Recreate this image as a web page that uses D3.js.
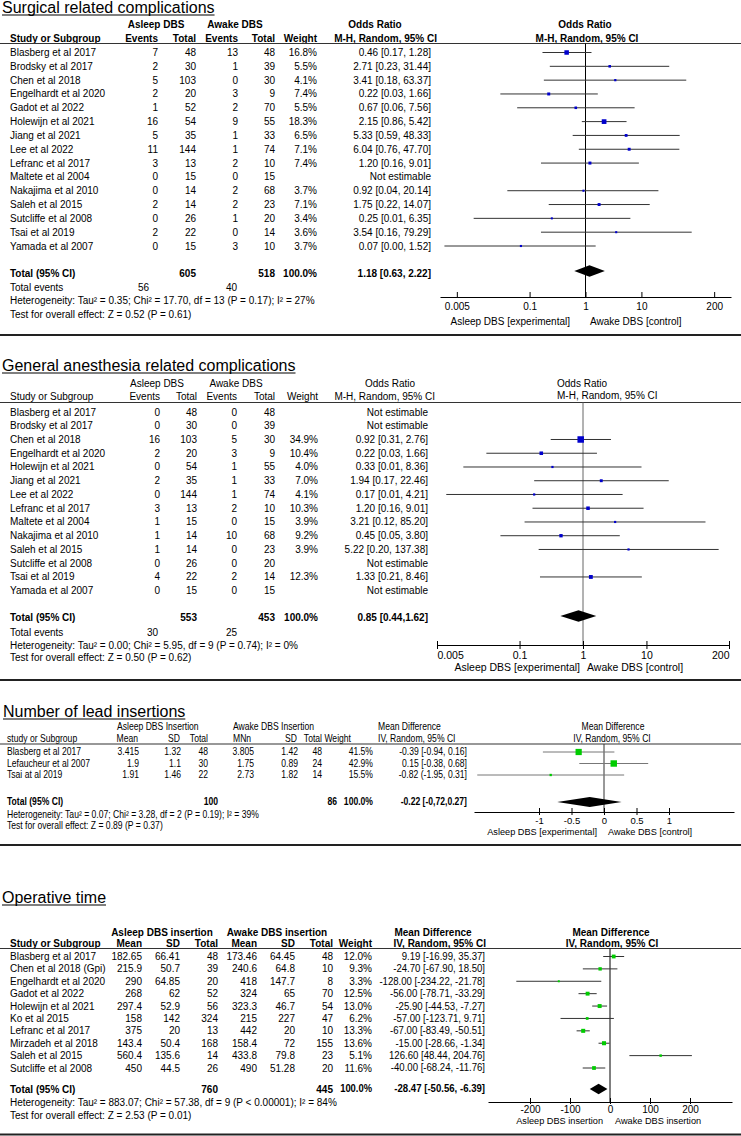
<!DOCTYPE html>
<html>
<head>
<meta charset="utf-8">
<title>Asleep vs awake DBS - forest plots</title>
<script src="https://cdn.jsdelivr.net/npm/d3@7"></script>
<style>
  body { margin: 0; background: #fff; }
  svg { display: block; font-family: "Liberation Sans", Arial, sans-serif; }
</style>
</head>
<body>
<script>
// ---- Surgical related complications (odds ratio) ----
var surgStudies = ['Blasberg et al 2017', 'Brodsky et al 2017', 'Chen et al 2018', 'Engelhardt et al 2020', 'Gadot et al 2022',
    'Holewijn et al 2021', 'Jiang et al 2021', 'Lee et al 2022', 'Lefranc et al 2017', 'Maltete et al 2004',
    'Nakajima et al 2010', 'Saleh et al 2015', 'Sutcliffe et al 2008', 'Tsai et al 2019', 'Yamada et al 2007'];
var surgAsleepEvents = [7, 2, 5, 2, 1, 16, 5, 11, 3, 0, 0, 2, 0, 2, 0];
var surgAsleepTotal = [48, 30, 103, 20, 52, 54, 35, 144, 13, 15, 14, 14, 26, 22, 15];
var surgAwakeEvents = [13, 1, 0, 3, 2, 9, 1, 1, 2, 0, 2, 2, 1, 0, 3];
var surgAwakeTotal = [48, 39, 30, 9, 70, 55, 33, 74, 10, 15, 68, 23, 20, 14, 10];
var surgWeight = [16.8, 5.5, 4.1, 7.4, 5.5, 18.3, 6.5, 7.1, 7.4, null, 3.7, 7.1, 3.4, 3.6, 3.7];
var surgOR = [0.46, 2.71, 3.41, 0.22, 0.67, 2.15, 5.33, 6.04, 1.20, null, 0.92, 1.75, 0.25, 3.54, 0.07];
var surgLow = [0.17, 0.23, 0.18, 0.03, 0.06, 0.86, 0.59, 0.76, 0.16, null, 0.04, 0.22, 0.01, 0.16, 0.003];
var surgHigh = [1.28, 31.44, 63.37, 1.66, 7.56, 5.42, 48.33, 47.70, 9.01, null, 20.14, 14.07, 6.35, 79.29, 1.52];
var surgPooled = [1.18, 0.63, 2.22];
var surgTicks = [0.005, 0.1, 1, 10, 200];
var surgTickLabels = ['0.005', '0.1', '1', '10', '200'];

// ---- General anesthesia related complications (odds ratio) ----
var anesStudies = ['Blasberg et al 2017', 'Brodsky et al 2017', 'Chen et al 2018', 'Engelhardt et al 2020', 'Holewijn et al 2021',
    'Jiang et al 2021', 'Lee et al 2022', 'Lefranc et al 2017', 'Maltete et al 2004', 'Nakajima et al 2010',
    'Saleh et al 2015', 'Sutcliffe et al 2008', 'Tsai et al 2019', 'Yamada et al 2007'];
var anesAsleepEvents = [0, 0, 16, 2, 0, 2, 0, 3, 1, 1, 1, 0, 4, 0];
var anesAsleepTotal = [48, 30, 103, 20, 54, 35, 144, 13, 15, 14, 14, 26, 22, 15];
var anesAwakeEvents = [0, 0, 5, 3, 1, 1, 1, 2, 0, 10, 0, 0, 2, 0];
var anesAwakeTotal = [48, 39, 30, 9, 55, 33, 74, 10, 15, 68, 23, 20, 14, 15];
var anesWeight = [null, null, 34.9, 10.4, 4.0, 7.0, 4.1, 10.3, 3.9, 9.2, 3.9, null, 12.3, null];
var anesOR = [null, null, 0.92, 0.22, 0.33, 1.94, 0.17, 1.20, 3.21, 0.45, 5.22, null, 1.33, null];
var anesLow = [null, null, 0.31, 0.03, 0.013, 0.17, 0.007, 0.16, 0.12, 0.05, 0.20, null, 0.21, null];
var anesHigh = [null, null, 2.76, 1.66, 8.36, 22.46, 4.21, 9.01, 85.20, 3.80, 137.38, null, 8.46, null];
var anesPooled = [0.85, 0.44, 1.62];
var anesTicks = [0.005, 0.1, 1, 10, 200];
var anesTickLabels = ['0.005', '0.1', '1', '10', '200'];

// ---- Number of lead insertions (mean difference) ----
var leadStudies = ['Blasberg et al 2017', 'Lefaucheur et al 2007', 'Tsai at al 2019'];
var leadAsleepMean = [3.415, 1.9, 1.91];
var leadAsleepSD = [1.32, 1.1, 1.46];
var leadAsleepTotal = [48, 30, 22];
var leadAwakeMean = [3.805, 1.75, 2.73];
var leadAwakeSD = [1.42, 0.89, 1.82];
var leadAwakeTotal = [48, 24, 14];
var leadWeight = [41.5, 42.9, 15.5];
var leadMD = [-0.39, 0.15, -0.82];
var leadLow = [-0.94, -0.38, -1.95];
var leadHigh = [0.16, 0.68, 0.31];
var leadBracket = ['[', '[', '('];
var leadPooled = [-0.22, -0.72, 0.27];
var leadTicks = [-1, -0.5, 0, 0.5, 1];
var leadTickLabels = ['-1', '-0.5', '0', '0.5', '1'];

// ---- Operative time (mean difference) ----
var opStudies = ['Blasberg et al 2017', 'Chen et al 2018 (Gpi)', 'Engelhardt et al 2020', 'Gadot et al 2022', 'Holewijn et al 2021',
    'Ko et al 2015', 'Lefranc et al 2017', 'Mirzadeh et al 2018', 'Saleh et al 2015', 'Sutcliffe et al 2008'];
var opAsleepMean = [182.65, 215.9, 290, 268, 297.4, 158, 375, 143.4, 560.4, 450];
var opAsleepSD = [66.41, 50.7, 64.85, 62, 52.9, 142, 20, 50.4, 135.6, 44.5];
var opAsleepTotal = [48, 39, 20, 52, 56, 324, 13, 168, 14, 26];
var opAwakeMean = [173.46, 240.6, 418, 324, 323.3, 215, 442, 158.4, 433.8, 490];
var opAwakeSD = [64.45, 64.8, 147.7, 65, 46.7, 227, 20, 72, 79.8, 51.28];
var opAwakeTotal = [48, 10, 8, 70, 54, 47, 10, 155, 23, 20];
var opWeight = [12.0, 9.3, 3.3, 12.5, 13.0, 6.2, 13.3, 13.6, 5.1, 11.6];
var opMD = [9.19, -24.70, -128.00, -56.00, -25.90, -57.00, -67.00, -15.00, 126.60, -40.00];
var opLow = [-16.99, -67.90, -234.22, -78.71, -44.53, -123.71, -83.49, -28.66, 48.44, -68.24];
var opHigh = [35.37, 18.50, -21.78, -33.29, -7.27, 9.71, -50.51, -1.34, 204.76, -11.76];
var opPooled = [-28.47, -50.56, -6.39];
var opTicks = [-200, -100, 0, 100, 200];
var opTickLabels = ['-200', '-100', '0', '100', '200'];

var svg = d3.select('body').append('svg')
    .attr('width', 741)
    .attr('height', 1136);

svg.append('rect').attr('width', 741).attr('height', 1136).attr('fill', '#fff');

//一般文字 (y = vertical centre, sx = horizontal squeeze)
var text = function(x, y, s, o){
    o = o || {};
    var sx = o.sx || 1;
    return svg.append('text')
        .attr('transform', sx != 1 ? 'scale(' + sx + ',1)' : null)
        .attr('x', x / sx)
        .attr('y', y)
        .attr('dy', '0.35em')
        .attr('text-anchor', o.anchor || 'start')
        .attr('font-size', o.size || 10)
        .attr('font-weight', o.bold ? 'bold' : 'normal')
        .attr('fill', '#000')
        .text(s);
}

var line = function(x1, y1, x2, y2, color, w){
    svg.append('line')
        .attr('x1', x1).attr('y1', y1)
        .attr('x2', x2).attr('y2', y2)
        .attr('stroke', color)
        .attr('stroke-width', w);
}

//標題 + 底線
var title = function(x, y, s){
    var t = svg.append('text')
        .attr('x', x)
        .attr('y', y)
        .attr('font-size', 16)
        .attr('fill', '#000')
        .text(s);
    var w = t.node().getComputedTextLength();
    line(x, y + 2.5, x + w, y + 2.5, '#000', 1.2);
}

//表格的一欄
var column = function(yScale, names, values, x, fmt, o){
    o = o || {};
    var sx = o.sx || 1;
    svg.append('g')
        .attr('transform', sx != 1 ? 'scale(' + sx + ',1)' : null)
        .selectAll('text')
        .data(values)
        .enter()
        .append('text')
        .attr('x', x / sx)
        .attr('y', function(d, i){ return yScale(names[i]); })
        .attr('dy', '0.35em')
        .attr('text-anchor', o.anchor || 'end')
        .attr('font-size', o.size || 10)
        .attr('fill', '#000')
        .text(fmt);
}

//信賴區間 + 方塊
var forest = function(p){
    var rows = p.names.map(function(n, i){
        return {name: n, est: p.est[i], low: p.low[i], high: p.high[i], w: p.weight[i]};
    }).filter(function(d){ return d.est != null; });

    var g = svg.append('g');
    g.selectAll('line')
        .data(rows)
        .enter()
        .append('line')
        .attr('x1', function(d){ return p.x(d.low); })
        .attr('x2', function(d){ return p.x(d.high); })
        .attr('y1', function(d){ return p.y(d.name); })
        .attr('y2', function(d){ return p.y(d.name); })
        .attr('stroke', p.stroke)
        .attr('stroke-width', 1);

    g.selectAll('rect')
        .data(rows)
        .enter()
        .append('rect')
        .attr('x', function(d){ return p.x(d.est) - p.side(d.w) / 2; })
        .attr('y', function(d){ return p.y(d.name) - p.side(d.w) / 2; })
        .attr('width', function(d){ return p.side(d.w); })
        .attr('height', function(d){ return p.side(d.w); })
        .attr('fill', p.fill);
}

var diamond = function(x, y, v, h){
    var pts = [[x(v[1]), y], [x(v[0]), y - h], [x(v[2]), y], [x(v[0]), y + h]];
    svg.append('path')
        .attr('d', d3.line()(pts) + 'Z')
        .attr('fill', '#000');
}

var axis = function(x, y, ticks, labels, o){
    var g = svg.append('g')
        .attr('transform', 'translate(0,' + y + ')')
        .call(d3.axisBottom(x)
            .tickValues(ticks)
            .tickFormat(function(d, i){ return labels[i]; })
            .tickSizeOuter(0));
    g.attr('font-family', null).attr('font-size', o.size);
    g.select('.domain').attr('stroke', '#000');
    g.selectAll('.tick line').attr('y1', o.up).attr('y2', o.down).attr('stroke', '#000');
    g.selectAll('.tick text').attr('y', o.labelY - y).attr('dy', '0.35em').attr('fill', '#000');
    return g;
}

var ciText = function(est, low, high, open){
    return function(d, i){
        if(est[i] == null) return 'Not estimable';
        return est[i].toFixed(2) + ' ' + (open ? open[i] : '[') + low[i].toFixed(2) + ', ' + high[i].toFixed(2) + ']';
    };
}
var pct = function(d){ return d == null ? '' : d.toFixed(1) + '%'; };
var num = function(d){ return String(d); };

// ================= Panel 1 =================
title(2, 12.5, 'Surgical related complications');
text(156, 24.5, 'Asleep DBS', {anchor: 'middle', bold: true});
text(235, 24.5, 'Awake DBS', {anchor: 'middle', bold: true});
text(375, 24.5, 'Odds Ratio', {anchor: 'middle', bold: true});
text(585, 24.5, 'Odds Ratio', {anchor: 'middle', bold: true});
text(10, 38, 'Study or Subgroup', {bold: true});
text(158, 38, 'Events', {anchor: 'end', bold: true});
text(196, 38, 'Total', {anchor: 'end', bold: true});
text(238, 38, 'Events', {anchor: 'end', bold: true});
text(275, 38, 'Total', {anchor: 'end', bold: true});
text(317, 38, 'Weight', {anchor: 'end', bold: true});
text(437, 38, 'M-H, Random, 95% CI', {anchor: 'end', bold: true});
text(587, 38, 'M-H, Random, 95% CI', {anchor: 'middle', bold: true});
line(0, 43.5, 741, 43.5, '#333', 1.2);

var y1 = d3.scalePoint().domain(surgStudies).range([52.5, 246]);
column(y1, surgStudies, surgStudies, 10, num, {anchor: 'start'});
column(y1, surgStudies, surgAsleepEvents, 158, num);
column(y1, surgStudies, surgAsleepTotal, 196, num);
column(y1, surgStudies, surgAwakeEvents, 238, num);
column(y1, surgStudies, surgAwakeTotal, 275, num);
column(y1, surgStudies, surgWeight, 317, pct);
column(y1, surgStudies, surgOR, 431, ciText(surgOR, surgLow, surgHigh));

text(10, 273, 'Total (95% CI)', {bold: true});
text(196, 273, d3.sum(surgAsleepTotal), {anchor: 'end', bold: true});
text(275, 273, d3.sum(surgAwakeTotal), {anchor: 'end', bold: true});
text(317, 273, '100.0%', {anchor: 'end', bold: true});
text(431, 273, '1.18 [0.63, 2.22]', {anchor: 'end', bold: true});
text(10, 287, 'Total events');
text(149, 287, d3.sum(surgAsleepEvents), {anchor: 'end'});
text(237, 287, d3.sum(surgAwakeEvents), {anchor: 'end'});
text(10, 300.5, 'Heterogeneity: Tau\u00b2 = 0.35; Chi\u00b2 = 17.70, df = 13 (P = 0.17); I\u00b2 = 27%');
text(10, 314, 'Test for overall effect: Z = 0.52 (P = 0.61)');

var x1 = d3.scaleLog().domain([0.0025, 400]).range([440, 731]);
line(x1(1), 43.5, x1(1), 297, '#000', 1);
forest({x: x1, y: y1, names: surgStudies, est: surgOR, low: surgLow, high: surgHigh, weight: surgWeight,
    side: function(w){ return 1.1 * Math.sqrt(w); }, fill: '#0000cc', stroke: '#333'});
diamond(x1, 271, surgPooled, 5.8);
axis(x1, 297, surgTicks, surgTickLabels, {size: 10, up: -5, down: 0, labelY: 306.5});
text(570, 321, 'Asleep DBS [experimental]', {anchor: 'end'});
text(590, 321, 'Awake DBS [control]');

line(0, 335, 741, 335, '#222', 2);

// ================= Panel 2 =================
title(2, 370.5, 'General anesthesia related complications');
text(157, 383, 'Asleep DBS', {anchor: 'middle'});
text(236, 383, 'Awake DBS', {anchor: 'middle'});
text(390, 383, 'Odds Ratio', {anchor: 'middle'});
text(557, 383, 'Odds Ratio');
text(10, 396.5, 'Study or Subgroup');
text(160, 396.5, 'Events', {anchor: 'end'});
text(197, 396.5, 'Total', {anchor: 'end'});
text(237, 396.5, 'Events', {anchor: 'end'});
text(275, 396.5, 'Total', {anchor: 'end'});
text(318, 396.5, 'Weight', {anchor: 'end'});
text(435, 396.5, 'M-H, Random, 95% CI', {anchor: 'end'});
text(557, 395, 'M-H, Random, 95% CI');
line(0, 402.5, 741, 402.5, '#333', 1.2);

var y2 = d3.scalePoint().domain(anesStudies).range([412, 590.7]);
column(y2, anesStudies, anesStudies, 10, num, {anchor: 'start'});
column(y2, anesStudies, anesAsleepEvents, 160, num);
column(y2, anesStudies, anesAsleepTotal, 197, num);
column(y2, anesStudies, anesAwakeEvents, 237, num);
column(y2, anesStudies, anesAwakeTotal, 275, num);
column(y2, anesStudies, anesWeight, 318, pct);
column(y2, anesStudies, anesOR, 428, ciText(anesOR, anesLow, anesHigh));

text(10, 617.5, 'Total (95% CI)', {bold: true});
text(197, 617.5, d3.sum(anesAsleepTotal), {anchor: 'end', bold: true});
text(275, 617.5, d3.sum(anesAwakeTotal), {anchor: 'end', bold: true});
text(318, 617.5, '100.0%', {anchor: 'end', bold: true});
text(428, 617.5, '0.85 [0.44,1.62]', {anchor: 'end', bold: true});
text(10, 632, 'Total events');
text(158, 632, d3.sum(anesAsleepEvents), {anchor: 'end'});
text(237, 632, d3.sum(anesAwakeEvents), {anchor: 'end'});
text(10, 645, 'Heterogeneity: Tau\u00b2 = 0.00; Chi\u00b2 = 5.95, df = 9 (P = 0.74); I\u00b2 = 0%');
text(10, 657.5, 'Test for overall effect: Z = 0.50 (P = 0.62)');

var x2 = d3.scaleLog().domain([0.005, 200]).range([437, 729]);
line(x2(1), 402.5, x2(1), 645, '#666', 1);
forest({x: x2, y: y2, names: anesStudies, est: anesOR, low: anesLow, high: anesHigh, weight: anesWeight,
    side: function(w){ return 1.1 * Math.sqrt(w); }, fill: '#0000cc', stroke: '#333'});
diamond(x2, 616, anesPooled, 5.8);
var ax2 = axis(x2, 645, anesTicks, anesTickLabels, {size: 10.5, up: -4, down: 4, labelY: 655.5});
ax2.selectAll('.tick text').attr('text-anchor', function(d, i){
    return i == 0 ? 'start' : (i == anesTicks.length - 1 ? 'end' : 'middle');
});
text(580, 667, 'Asleep DBS [experimental]', {anchor: 'end', size: 10.5});
text(587, 667, 'Awake DBS [control]', {size: 10.5});

line(0, 680, 741, 680, '#222', 2);

// ================= Panel 3 (narrow type) =================
title(3, 716.5, 'Number of lead insertions');
var n3 = {size: 10, sx: 0.86};
var t3 = function(x, y, s, extra){
    return text(x, y, s, Object.assign({}, n3, extra || {}));
}
t3(117, 727, 'Asleep DBS Insertion');
t3(233, 727, 'Awake DBS Insertion');
t3(378, 727, 'Mean Difference');
t3(613, 727, 'Mean Difference', {anchor: 'middle'});
t3(7, 738.5, 'study or Subgroup');
t3(138, 738.5, 'Mean', {anchor: 'end'});
t3(180, 738.5, 'SD', {anchor: 'end'});
t3(208, 738.5, 'Total', {anchor: 'end'});
t3(233, 738.5, 'MNn');
t3(297, 738.5, 'SD', {anchor: 'end'});
t3(322, 738.5, 'Total', {anchor: 'end'});
t3(351, 738.5, 'Weight', {anchor: 'end'});
t3(378, 738.5, 'IV, Random, 95% CI');
t3(612, 738.5, 'IV, Random, 95% CI', {anchor: 'middle'});
line(0, 744, 741, 744, '#333', 1.2);

var y3 = d3.scalePoint().domain(leadStudies).range([752, 775]);
column(y3, leadStudies, leadStudies, 7, num, Object.assign({anchor: 'start'}, n3));
column(y3, leadStudies, leadAsleepMean, 139, num, n3);
column(y3, leadStudies, leadAsleepSD, 181, num, n3);
column(y3, leadStudies, leadAsleepTotal, 208, num, n3);
column(y3, leadStudies, leadAwakeMean, 254, num, n3);
column(y3, leadStudies, leadAwakeSD, 298, num, n3);
column(y3, leadStudies, leadAwakeTotal, 322, num, n3);
column(y3, leadStudies, leadWeight, 373, pct, n3);
column(y3, leadStudies, leadMD, 467, ciText(leadMD, leadLow, leadHigh, leadBracket), n3);

t3(7, 802, 'Total (95% CI)', {bold: true});
t3(218, 802, d3.sum(leadAsleepTotal), {anchor: 'end', bold: true});
t3(337, 802, d3.sum(leadAwakeTotal), {anchor: 'end', bold: true});
t3(373, 802, '100.0%', {anchor: 'end', bold: true});
t3(467, 802, '-0.22 [-0,72,0.27]', {anchor: 'end', bold: true});
t3(7, 814.5, 'Heterogeneity: Tau\u00b2 = 0.07; Chi\u00b2 = 3.28, df = 2 (P = 0.19); I\u00b2 = 39%');
t3(7, 826, 'Test for overall effect: Z = 0.89 (P = 0.37)');

var x3 = d3.scaleLinear().domain([-2, 2]).range([474, 734]);
line(x3(0), 744, x3(0), 812, '#333', 1);
forest({x: x3, y: y3, names: leadStudies, est: leadMD, low: leadLow, high: leadHigh, weight: leadWeight,
    side: function(w){ return 0.15 * w; }, fill: '#00cc00', stroke: '#777'});
diamond(x3, 802, leadPooled, 5);
axis(x3, 812, leadTicks, leadTickLabels, {size: 9.5, up: -4, down: 3, labelY: 821});
text(597, 832, 'Asleep DBS [experimental]', {anchor: 'end', size: 9.2});
text(608, 832, 'Awake DBS [control]', {size: 9.2});

line(0, 845, 741, 845, '#222', 2);

// ================= Panel 4 =================
title(2, 902.5, 'Operative time');
text(162, 932, 'Asleep DBS insertion', {anchor: 'middle', bold: true});
text(277, 932, 'Awake DBS insertion', {anchor: 'middle', bold: true});
text(433, 932, 'Mean Difference', {anchor: 'middle', bold: true});
text(611, 932, 'Mean Difference', {anchor: 'middle', bold: true});
text(10, 943, 'Study or Subgroup', {bold: true});
text(142, 943, 'Mean', {anchor: 'end', bold: true});
text(180, 943, 'SD', {anchor: 'end', bold: true});
text(218, 943, 'Total', {anchor: 'end', bold: true});
text(257, 943, 'Mean', {anchor: 'end', bold: true});
text(295, 943, 'SD', {anchor: 'end', bold: true});
text(333, 943, 'Total', {anchor: 'end', bold: true});
text(372, 943, 'Weight', {anchor: 'end', bold: true});
text(486, 943, 'IV, Random, 95% CI', {anchor: 'end', bold: true});
text(612, 943, 'IV, Random, 95% CI', {anchor: 'middle', bold: true});
line(0, 948.5, 741, 948.5, '#333', 1.2);

var y4 = d3.scalePoint().domain(opStudies).range([956.5, 1068]);
column(y4, opStudies, opStudies, 10, num, {anchor: 'start'});
column(y4, opStudies, opAsleepMean, 142, num);
column(y4, opStudies, opAsleepSD, 180, num);
column(y4, opStudies, opAsleepTotal, 218, num);
column(y4, opStudies, opAwakeMean, 257, num);
column(y4, opStudies, opAwakeSD, 295, num);
column(y4, opStudies, opAwakeTotal, 333, num);
column(y4, opStudies, opWeight, 372, pct);
column(y4, opStudies, opMD, 485, ciText(opMD, opLow, opHigh), {size: 10, sx: 0.96});

text(10, 1089, 'Total (95% CI)', {bold: true});
text(218, 1089, d3.sum(opAsleepTotal), {anchor: 'end', bold: true});
text(333, 1089, d3.sum(opAwakeTotal), {anchor: 'end', bold: true});
text(372, 1089, '100.0%', {anchor: 'end', bold: true, sx: 0.94});
text(485, 1089, '-28.47 [-50.56, -6.39]', {anchor: 'end', bold: true, sx: 0.96});
text(10, 1102.5, 'Heterogeneity: Tau\u00b2 = 883.07; Chi\u00b2 = 57.38, df = 9 (P < 0.00001); I\u00b2 = 84%');
text(10, 1115, 'Test for overall effect: Z = 2.53 (P = 0.01)');

var x4 = d3.scaleLinear().domain([-305, 305]).range([488, 732]);
line(x4(0), 948.5, x4(0), 1102, '#000', 1);
forest({x: x4, y: y4, names: opStudies, est: opMD, low: opLow, high: opHigh, weight: opWeight,
    side: function(w){ return 1.1 * Math.sqrt(w); }, fill: '#00cc00', stroke: '#333'});
diamond(x4, 1089, opPooled, 5.3);
axis(x4, 1102, opTicks, opTickLabels, {size: 10, up: -4, down: 2, labelY: 1109.5});
text(603, 1121, 'Asleep DBS insertion', {anchor: 'end', size: 9.2});
text(615, 1121, 'Awake DBS insertion', {size: 9.2});

line(0, 1134.5, 741, 1134.5, '#222', 2);
</script>
</body>
</html>
